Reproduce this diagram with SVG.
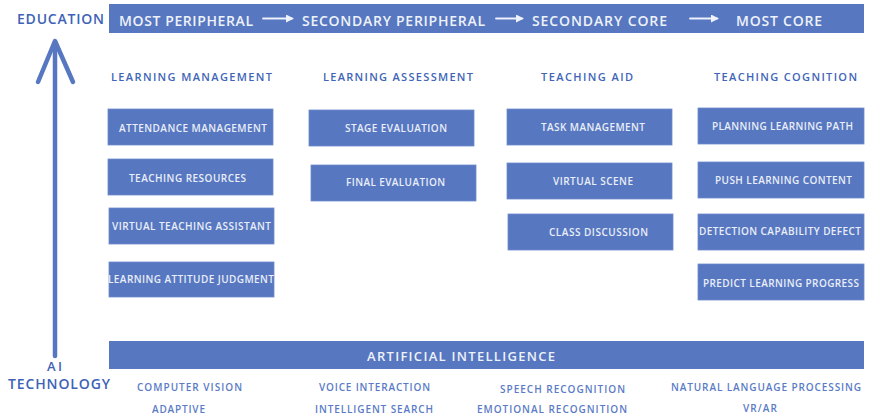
<svg xmlns="http://www.w3.org/2000/svg" width="871" height="418" viewBox="0 0 871 418">
  <style>
    text { font-family: "Open Sans", "Noto Sans", "DejaVu Sans", sans-serif; }
    .bar { fill: #5777c0; }
    .box { fill: #5777c0; stroke: #6f8bcd; stroke-width: 0.8; }
    .bartxt { fill: #eef2fa; font-size: 14px; font-weight: 600; }
    .boxtxt { fill: #e9eef8; font-size: 10px; font-weight: 600; }
    .head { fill: #4065b8; font-size: 11px; font-weight: 600; }
    .side { fill: #3e62b6; font-size: 14px; font-weight: 600; }
    .tech { fill: #5a7bc6; font-size: 10px; font-weight: 600; }
  </style>
  <defs>
    <marker id="tip" markerWidth="8" markerHeight="8" refX="6" refY="4" orient="auto" markerUnits="userSpaceOnUse">
      <path d="M0,0 L8,4 L0,8 Z" fill="#eef2fa"/>
    </marker>
  </defs>

  <rect width="871" height="418" fill="#ffffff"/>

  <!-- top band: progression from periphery to core -->
  <g id="education-band">
    <rect class="bar" x="109" y="4" width="755" height="29"/>
    <text class="bartxt" x="119" y="26" textLength="134">MOST PERIPHERAL</text>
    <text class="bartxt" x="302" y="26" textLength="183">SECONDARY PERIPHERAL</text>
    <text class="bartxt" x="532" y="26" textLength="135">SECONDARY CORE</text>
    <text class="bartxt" x="736" y="26" textLength="86">MOST CORE</text>
  </g>

  <!-- bottom band -->
  <g id="ai-band">
    <rect class="bar" x="109" y="341" width="755" height="28"/>
    <text class="bartxt" x="367" y="361" textLength="188" style="font-size:13px">ARTIFICIAL INTELLIGENCE</text>
  </g>

  <!-- side axis labels -->
  <g id="axis-labels">
    <text class="side" x="17" y="24" textLength="87">EDUCATION</text>
    <text class="side" x="47" y="371" textLength="15" style="font-size:13px">AI</text>
    <text class="side" x="8" y="389" textLength="102">TECHNOLOGY</text>
  </g>

  <!-- connectors -->
  <g id="connectors" fill="none" stroke-linecap="round" stroke-linejoin="round">
    <path d="M55,356 V42" stroke="#5777c0" stroke-width="4.5"/>
    <path d="M38,82 L55,41 L73,82" stroke="#5777c0" stroke-width="4.5"/>
    <path d="M263,18.5 H292" stroke="#eef2fa" stroke-width="1.8" marker-end="url(#tip)"/>
    <path d="M496,18.5 H522" stroke="#eef2fa" stroke-width="1.8" marker-end="url(#tip)"/>
    <path d="M690,18.5 H717" stroke="#eef2fa" stroke-width="1.8" marker-end="url(#tip)"/>
  </g>

  <!-- column headings -->
  <g id="headings">
    <text class="head" x="111" y="81" textLength="161">LEARNING MANAGEMENT</text>
    <text class="head" x="323" y="81" textLength="150">LEARNING ASSESSMENT</text>
    <text class="head" x="541" y="81" textLength="92">TEACHING AID</text>
    <text class="head" x="714" y="81" textLength="143">TEACHING COGNITION</text>
  </g>

  <!-- learning management -->
  <g id="attendance-management">
    <rect class="box" x="108" y="109" width="165" height="36"/>
    <text class="boxtxt" x="119" y="132" textLength="148">ATTENDANCE MANAGEMENT</text>
  </g>
  <g id="teaching-resources">
    <rect class="box" x="108" y="159" width="165" height="36"/>
    <text class="boxtxt" x="129" y="182" textLength="117">TEACHING RESOURCES</text>
  </g>
  <g id="virtual-teaching-assistant">
    <rect class="box" x="109" y="208" width="165" height="36"/>
    <text class="boxtxt" x="112" y="230" textLength="159">VIRTUAL TEACHING ASSISTANT</text>
  </g>
  <g id="learning-attitude-judgment">
    <rect class="box" x="109" y="262" width="165" height="35"/>
    <text class="boxtxt" x="108" y="283" textLength="166">LEARNING ATTITUDE JUDGMENT</text>
  </g>

  <!-- learning assessment -->
  <g id="stage-evaluation">
    <rect class="box" x="309" y="110" width="165" height="36"/>
    <text class="boxtxt" x="345" y="132" textLength="102">STAGE EVALUATION</text>
  </g>
  <g id="final-evaluation">
    <rect class="box" x="311" y="165" width="165" height="36"/>
    <text class="boxtxt" x="346" y="186" textLength="99">FINAL EVALUATION</text>
  </g>

  <!-- teaching aid -->
  <g id="task-management">
    <rect class="box" x="507" y="109" width="165" height="36"/>
    <text class="boxtxt" x="541" y="131" textLength="104">TASK MANAGEMENT</text>
  </g>
  <g id="virtual-scene">
    <rect class="box" x="507" y="163" width="165" height="36"/>
    <text class="boxtxt" x="553" y="185" textLength="80">VIRTUAL SCENE</text>
  </g>
  <g id="class-discussion">
    <rect class="box" x="508" y="214" width="165" height="36"/>
    <text class="boxtxt" x="549" y="236" textLength="99">CLASS DISCUSSION</text>
  </g>

  <!-- teaching cognition -->
  <g id="planning-learning-path">
    <rect class="box" x="698" y="108" width="166" height="36"/>
    <text class="boxtxt" x="712" y="130" textLength="141">PLANNING LEARNING PATH</text>
  </g>
  <g id="push-learning-content">
    <rect class="box" x="698" y="162" width="166" height="36"/>
    <text class="boxtxt" x="715" y="184" textLength="137">PUSH LEARNING CONTENT</text>
  </g>
  <g id="detection-capability-defect">
    <rect class="box" x="698" y="214" width="166" height="36"/>
    <text class="boxtxt" x="699" y="235" textLength="162">DETECTION CAPABILITY DEFECT</text>
  </g>
  <g id="predict-learning-progress">
    <rect class="box" x="698" y="264" width="166" height="36"/>
    <text class="boxtxt" x="703" y="287" textLength="156">PREDICT LEARNING PROGRESS</text>
  </g>

  <!-- AI technologies -->
  <g id="technologies">
    <text class="tech" x="137" y="391" textLength="105">COMPUTER VISION</text>
    <text class="tech" x="152" y="413" textLength="53">ADAPTIVE</text>
    <text class="tech" x="319" y="391" textLength="111">VOICE INTERACTION</text>
    <text class="tech" x="315" y="413" textLength="118">INTELLIGENT SEARCH</text>
    <text class="tech" x="500" y="393" textLength="125">SPEECH RECOGNITION</text>
    <text class="tech" x="477" y="413" textLength="150">EMOTIONAL RECOGNITION</text>
    <text class="tech" x="671" y="391" textLength="190">NATURAL LANGUAGE PROCESSING</text>
    <text class="tech" x="743" y="412" textLength="34">VR/AR</text>
  </g>
</svg>
